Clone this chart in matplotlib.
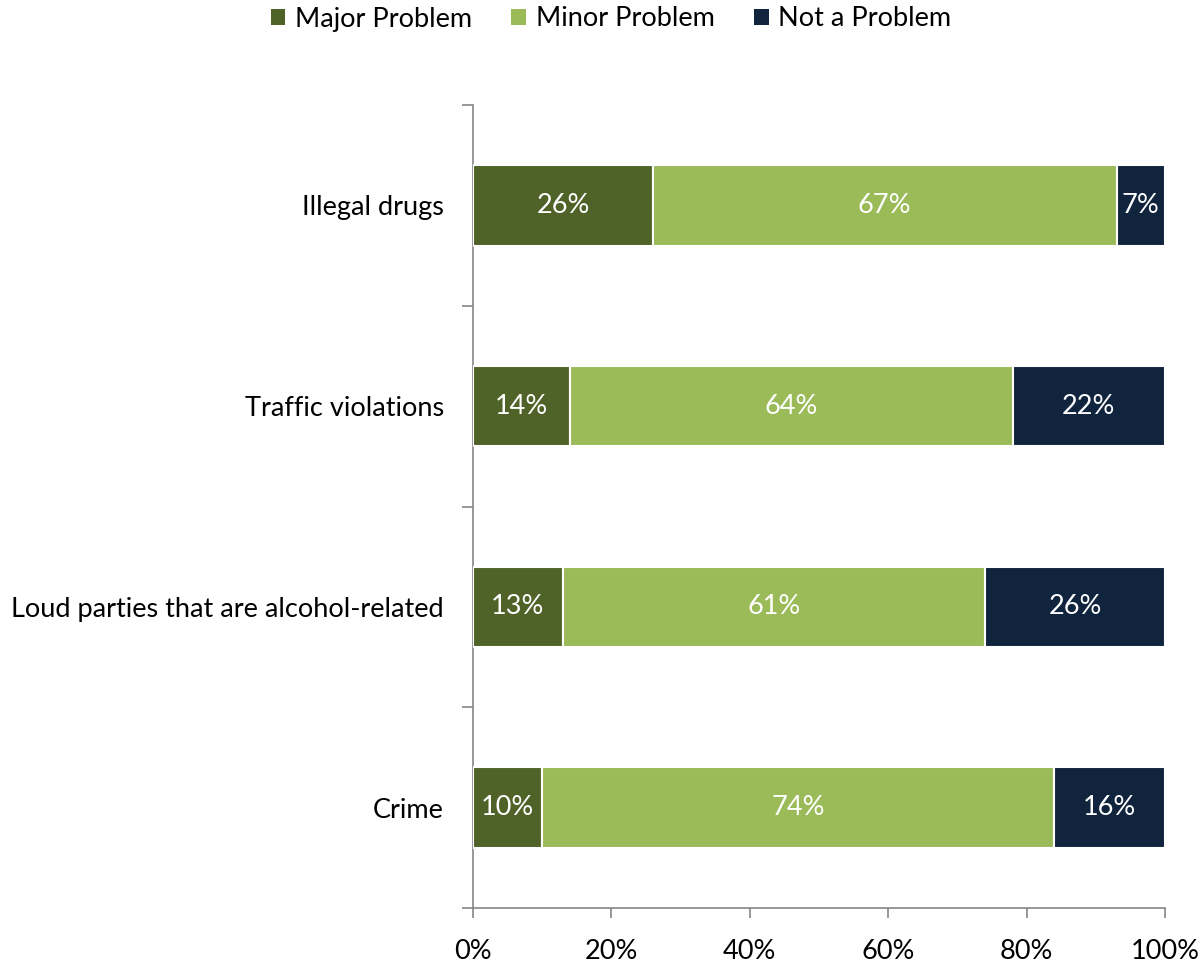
import matplotlib.pyplot as plt
from matplotlib.patches import Patch
from matplotlib.ticker import FixedLocator, PercentFormatter

categories = ["Crime", "Loud parties that are alcohol-related", "Traffic violations", "Illegal drugs"]
series_names = ["Major Problem", "Minor Problem", "Not a Problem"]
major = [10, 13, 14, 26]
minor = [74, 61, 64, 67]
not_problem = [16, 26, 22, 7]
colors = ["#4F6228", "#9BBB59", "#10243E"]
x_ticks = [0, 20, 40, 60, 80, 100]

plt.rcParams["font.family"] = ["Lato", "DejaVu Sans"]
FS = 19.5

fig = plt.figure(figsize=(12.04, 9.64), dpi=100)
ax = fig.add_axes([473 / 1204, 1 - 908 / 964, (1165 - 473) / 1204, (908 - 105) / 964])

ypos = list(range(len(categories)))
left = [0] * len(categories)
for name, vals, col in zip(series_names, [major, minor, not_problem], colors):
    bars = ax.barh(ypos, vals, left=left, height=0.4, color=col,
                   edgecolor="white", linewidth=1.5, label=name, zorder=3)
    for b, v, l in zip(bars, vals, left):
        ax.text(l + v / 2, b.get_y() + b.get_height() / 2, f"{v}%",
                ha="center", va="center", color="white", fontsize=FS, zorder=4)
    left = [a + b for a, b in zip(left, vals)]

ax.set_xlim(0, 100)
ax.set_ylim(-0.5, len(categories) - 0.5)
ax.set_xticks(x_ticks)
ax.xaxis.set_major_formatter(PercentFormatter(decimals=0))
ax.set_yticks(ypos)
ax.set_yticklabels(categories)
ax.yaxis.set_minor_locator(FixedLocator([i - 0.5 for i in range(len(categories) + 1)]))

for side in ["top", "right"]:
    ax.spines[side].set_visible(False)
for side in ["left", "bottom"]:
    ax.spines[side].set_color("#868686")
    ax.spines[side].set_linewidth(1.2)

ax.tick_params(axis="x", length=7, width=1.2, color="#868686", pad=15, labelsize=FS, labelcolor="black")
ax.tick_params(axis="y", which="major", length=0, pad=21, labelsize=FS, labelcolor="black")
ax.tick_params(axis="y", which="minor", length=8, width=1.2, color="#868686")

handles = [Patch(facecolor=c, edgecolor="none") for c in colors]
fig.legend(handles, series_names, loc="center", bbox_to_anchor=(611 / 1204, 1 - 19 / 964),
           ncol=3, frameon=False, fontsize=FS, handlelength=0.55, handleheight=0.55,
           handletextpad=0.35, columnspacing=1.45)

fig.savefig("out.png", dpi=100)
